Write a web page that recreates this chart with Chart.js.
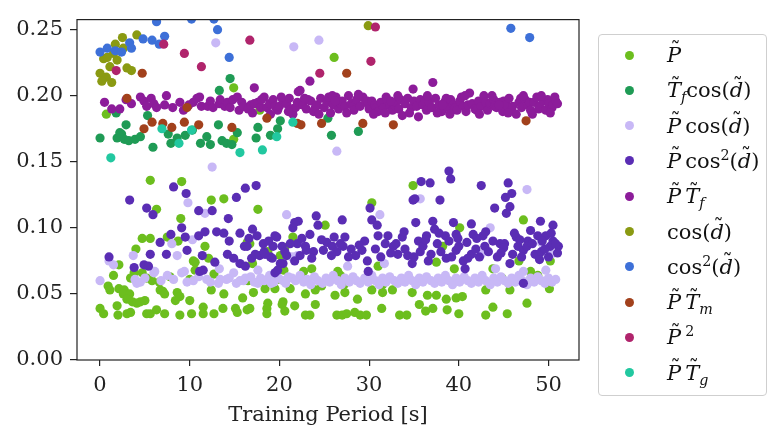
<!DOCTYPE html>
<html><head><meta charset="utf-8">
<script src="https://cdn.jsdelivr.net/npm/chart.js@4.4.0/dist/chart.umd.min.js"></script>
<style>
html,body{margin:0;padding:0;background:#fff;}
#wrap{position:relative;width:770px;height:431px;overflow:hidden;background:#fff;}
#c{position:absolute;left:0;top:0;}
#legend{position:absolute;left:598px;top:34px;width:169px;height:362px;border:1px solid #cfcfcf;border-radius:4px;box-sizing:border-box;background:#fff;}
.row{position:absolute;left:0;width:168px;height:30px;}
.mk{position:absolute;left:26px;top:10.5px;width:9px;height:9px;border-radius:50%;}
.lab{position:absolute;left:68px;top:0;white-space:nowrap;font-family:"DejaVu Serif";font-size:21px;color:#111;line-height:30px;}
.t{position:relative;display:inline-block;font-style:italic;}
.t .tl{position:absolute;left:0.08em;right:-0.06em;text-align:center;top:-0.28em;font-style:normal;font-size:0.95em;}
.lab i{font-style:italic;}
sub,sup{font-size:0.68em;line-height:0;}
</style></head>
<body><div id="wrap"><canvas id="c" width="770" height="431"></canvas><div id="legend"></div></div>
<script>
const xTicks = [0, 10, 20, 30, 40, 50];
const yTicks = [0, 0.05, 0.10, 0.15, 0.20, 0.25];
const tl = (ch) => `<span class="t">${ch}<span class="tl">˜</span></span>`;
const seriesLabels = [
  `${tl('P')}`,
  `${tl('T')}<sub><i>f</i></sub>cos(${tl('d')})`,
  `${tl('P')}&thinsp;cos(${tl('d')})`,
  `${tl('P')}&thinsp;cos<sup>2</sup>(${tl('d')})`,
  `${tl('P')}&thinsp;${tl('T')}<sub><i>f</i></sub>`,
  `cos(${tl('d')})`,
  `cos<sup>2</sup>(${tl('d')})`,
  `${tl('P')}&thinsp;${tl('T')}<sub><i>m</i></sub>`,
  `${tl('P')}&thinsp;<sup>2</sup>`,
  `${tl('P')}&thinsp;${tl('T')}<sub><i>g</i></sub>`
];
const seriesColors = ['#6cbe1e','#1f9b55','#c8b8f6','#5a2db4','#8c1c9a','#8a9a12','#3d70d8','#a2411c','#b0246c','#22c8a0'];

const P_data = [
[0.7,0.186],[5.6,0.136],[9.1,0.135],[12.4,0.121],[13.8,0.122],[14.9,0.206],[14.9,0.167],[17.8,0.189],[26.1,0.229],[34.9,0.132],[30.3,0.119],[6.3,0.114],[17.6,0.114],[9.0,0.107],[25.1,0.102],[40.1,0.100],[47.2,0.106],
[4.7,0.092],[5.6,0.092],[4.0,0.084],[7.5,0.093],[8.7,0.090],[11.7,0.086],[10.4,0.075],[12.1,0.077],[16.4,0.089],[16.7,0.088],[20.1,0.079],[20.6,0.085],[21.5,0.093],[18.7,0.082],[17.0,0.073],[38.2,0.086],[37.5,0.074],[39.5,0.069],[43.8,0.069],[44.8,0.062],[46.7,0.075],[48.0,0.067],[48.8,0.064],[50.2,0.075],[31.0,0.071],
[2.1,0.072],[1.5,0.064],[3.8,0.066],[4.7,0.066],[5.2,0.062],[5.8,0.060],[6.6,0.059],[3.4,0.062],[7.8,0.063],[10.6,0.068],[10.6,0.074],[12.7,0.065],[10.0,0.061],[16.5,0.060],[19.8,0.061],[20.5,0.068],[22.7,0.067],[23.6,0.069],[26.5,0.067],[26.8,0.064],[27.2,0.057],
[0.9,0.056],[1.1,0.053],[2.1,0.054],[2.7,0.053],[2.6,0.050],[3.1,0.047],[3.3,0.050],[3.0,0.046],[3.6,0.044],[4.1,0.043],[4.5,0.044],[5.0,0.045],[6.7,0.053],[7.0,0.052],[7.2,0.050],[8.6,0.051],[8.4,0.045],[8.9,0.048],[10.0,0.045],[12.4,0.053],[13.8,0.050],[15.9,0.047],[17.1,0.051],[18.4,0.054],[18.7,0.043],[19.5,0.054],[20.4,0.044],[21.2,0.054],[22.9,0.050],[24.0,0.053],[24.7,0.056],[26.2,0.049],[27.3,0.051],[28.7,0.046],[30.3,0.053],[31.5,0.057],[31.5,0.051],[32.6,0.053],[34.8,0.051],[36.5,0.049],[37.5,0.049],[38.6,0.046],[39.7,0.047],[40.4,0.048],[43.0,0.053],[45.7,0.053],[50.1,0.054],[47.6,0.043],
[0.0,0.039],[0.4,0.035],[1.9,0.041],[2.0,0.034],[3.0,0.035],[3.4,0.036],[5.2,0.035],[5.6,0.035],[6.3,0.038],[7.2,0.035],[8.9,0.034],[10.2,0.035],[11.5,0.040],[11.5,0.035],[12.7,0.035],[13.7,0.039],[15.1,0.039],[15.3,0.036],[16.4,0.038],[16.7,0.039],[18.6,0.039],[18.6,0.035],[20.3,0.042],[20.6,0.037],[21.7,0.041],[22.9,0.034],[23.4,0.034],[24.0,0.042],[26.4,0.034],[27.0,0.034],[27.5,0.035],[28.4,0.036],[29.0,0.034],[29.7,0.034],[31.4,0.039],[33.4,0.034],[34.2,0.034],[35.6,0.042],[36.3,0.037],[37.1,0.039],[38.7,0.038],[40.0,0.035],[43.0,0.034],[43.8,0.040],[45.4,0.035]
];
const TfCos_data = [
[0.0,0.168],[1.8,0.187],[2.9,0.178],[2.4,0.171],[1.9,0.168],[2.7,0.167],[3.9,0.167],[4.5,0.169],[5.3,0.185],[5.9,0.161],[7.6,0.171],[7.9,0.164],[8.6,0.168],[9.5,0.170],[10.3,0.174],[11.2,0.164],[11.9,0.169],[12.3,0.163],[13.2,0.178],[13.6,0.166],[14.1,0.164],[14.7,0.163],[15.3,0.172],[14.5,0.213],[13.3,0.204],[17.4,0.168],[17.6,0.176],[19.0,0.170],[20.1,0.181],[19.8,0.175],[25.4,0.183],[25.8,0.170],[28.8,0.173],[2.2,0.172],[3.2,0.166]
];
const PCos_data = [
[12.9,0.240],[21.6,0.237],[24.4,0.242],[26.4,0.158],[12.5,0.146],[47.6,0.129],[35.7,0.122],[43.5,0.100],[20.8,0.110],[31.2,0.110],[9.8,0.119],[11.7,0.111],
[0.0,0.060],[1.0,0.075],[1.5,0.072],[3.7,0.079],[4.1,0.058],[6.1,0.067],[8.0,0.088],[8.6,0.079],[9.1,0.066],[9.4,0.067],[10.3,0.091],[6.0,0.066],[3.9,0.061],[4.5,0.059],[10.4,0.060],[11.9,0.061],[12.3,0.059],[13.2,0.058],[13.4,0.061],[14.1,0.061],[14.4,0.062],[14.9,0.066],[15.6,0.060],[16.2,0.062],[13.3,0.069],[17.6,0.058],[18.6,0.061],[19.1,0.058],[20.4,0.060],[21.4,0.062],[22.0,0.079],[17.6,0.068],[27.6,0.071],[31.7,0.073],[21.4,0.078],[42.5,0.080],[49.2,0.089],[50.3,0.080],[47.2,0.067],[44.1,0.069],[49.7,0.068],
[5.0,0.062],[6.8,0.060],[7.5,0.064],[8.2,0.061],[9.7,0.059],[11.0,0.063],[15.2,0.058],[16.0,0.060],
[16.8,0.063],[17.2,0.059],[17.9,0.062],[18.3,0.060],[18.9,0.064],[19.4,0.059],[19.9,0.062],[20.7,0.058],[21.0,0.063],[21.8,0.060],[22.3,0.064],[22.7,0.059],[23.1,0.061],[23.5,0.057],[23.9,0.063],[24.3,0.060],[24.8,0.058],[25.2,0.062],[25.6,0.059],[26.0,0.064],[26.5,0.060],[26.9,0.057],[27.3,0.062],[27.8,0.059],[28.2,0.063],[28.6,0.060],[29.0,0.058],[29.5,0.062],[29.9,0.059],[30.3,0.064],[30.7,0.060],[31.1,0.057],[31.5,0.062],[31.9,0.059],[32.3,0.063],[32.8,0.060],[33.2,0.058],[33.6,0.062],[34.0,0.059],[34.4,0.064],[34.8,0.060],[35.2,0.057],[35.6,0.062],[36.0,0.059],[36.4,0.063],[36.9,0.060],[37.3,0.058],[37.7,0.062],[38.1,0.059],[38.5,0.064],[38.9,0.060],[39.3,0.057],[39.7,0.062],[40.1,0.059],[40.6,0.063],[41.0,0.060],[41.4,0.058],[41.8,0.062],[42.2,0.059],[42.6,0.064],[43.0,0.060],[43.5,0.057],[43.9,0.062],[44.3,0.059],[44.7,0.063],[45.1,0.060],[45.5,0.058],[45.9,0.062],[46.3,0.059],[46.7,0.064],[47.1,0.060],[47.6,0.057],[48.0,0.062],[48.4,0.059],[48.8,0.063],[49.2,0.060],[49.6,0.058],[50.0,0.062],[50.4,0.059],[50.8,0.061]
];
const PCos2_data = [
[3.3,0.121],[8.2,0.131],[9.6,0.126],[5.2,0.115],[5.9,0.110],[11.0,0.113],[12.5,0.113],[15.2,0.123],[16.2,0.130],[14.3,0.107],[9.1,0.100],[7.9,0.095],[6.7,0.089],[9.5,0.093],[11.0,0.094],[11.7,0.097],[13.0,0.097],[13.8,0.096],[14.4,0.090],[15.6,0.096],[9.7,0.083],[7.4,0.080],[5.6,0.080],[1.0,0.078],[3.8,0.070],[4.9,0.072],[5.4,0.071],[11.4,0.079],[12.8,0.074],[11.5,0.068],[14.2,0.080],[14.9,0.077],[15.6,0.073],[16.1,0.086],[16.2,0.071],
[17.4,0.132],[17.5,0.094],[11.1,0.067],[16.9,0.077],[17.8,0.079],[18.3,0.082],[19.0,0.078],[19.3,0.086],[19.7,0.093],[20.3,0.086],[19.5,0.066],[20.1,0.073],[20.8,0.079],[21.5,0.100],[22.0,0.088],[21.7,0.075],[22.1,0.105],
[24.1,0.109],[27.0,0.106],[30.1,0.115],[30.3,0.106],[30.9,0.102],[34.9,0.121],[21.7,0.104],[17.0,0.099],[19.5,0.094],[18.2,0.088],[16.4,0.086],[17.3,0.080],[18.4,0.080],[19.2,0.077],[20.4,0.073],[22.3,0.079],[22.9,0.086],[23.4,0.095],[23.8,0.082],[24.3,0.102],[25.3,0.089],[25.9,0.086],[26.4,0.082],[27.1,0.086],[27.3,0.093],[29.2,0.083],[29.5,0.090],[29.8,0.075],[29.9,0.067],[31.8,0.088],[32.1,0.094],[32.7,0.086],[33.2,0.080],[33.7,0.093],[34.3,0.079],[34.8,0.073],[19.8,0.068],
[38.9,0.143],[39.1,0.137],[35.8,0.135],[36.8,0.134],[42.5,0.132],[45.5,0.134],[45.9,0.126],[45.2,0.123],[45.7,0.116],[45.3,0.111],[44.0,0.115],[37.9,0.121],[35.1,0.122],[35.2,0.104],[37.1,0.105],[37.3,0.099],[39.4,0.104],[41.4,0.103],[41.6,0.095],[42.7,0.094],[49.1,0.105],[50.5,0.102],[36.4,0.094],[38.5,0.094],[39.7,0.095],[46.4,0.093],[47.7,0.090],[48.8,0.094],[49.7,0.094],[50.5,0.090],[51.1,0.086],[35.7,0.082],[36.6,0.075],[38.6,0.077],[39.7,0.083],[40.5,0.075],[41.4,0.080],[40.7,0.069],[42.9,0.086],[44.6,0.088],[45.1,0.088],[45.7,0.073],[46.6,0.086],[47.2,0.083],[48.5,0.080],[49.2,0.082],[50.2,0.086],[47.2,0.058],
[23.0,0.083],[24.7,0.091],[25.8,0.079],[26.8,0.088],[28.0,0.084],[28.5,0.079],[30.7,0.084],[31.3,0.078],[33.0,0.088],[34.0,0.084],[35.5,0.090],[36.0,0.086],[36.9,0.080],[37.6,0.088],[38.0,0.082],[38.9,0.090],[39.2,0.078],[40.0,0.086],[40.9,0.089],[41.9,0.084],[42.3,0.078],[43.3,0.082],[43.8,0.090],[44.3,0.078],[45.0,0.085],[46.0,0.080],[46.8,0.091],[47.6,0.086],[48.2,0.088],[49.0,0.076],[49.6,0.084],[50.8,0.088],[50.0,0.078],
[16.6,0.092],[18.8,0.090],[20.6,0.082],[21.2,0.088],[22.5,0.092],[23.6,0.077],[24.9,0.083],[26.1,0.093],[27.7,0.078],[28.9,0.087],[31.0,0.094],[32.4,0.081],[33.9,0.097],[35.0,0.078],[36.3,0.091],[37.8,0.096],[39.9,0.092],[41.0,0.077],[42.0,0.092],[43.0,0.097],[44.7,0.081],[46.2,0.096],[47.0,0.078],[48.0,0.098],[49.3,0.090],[50.3,0.096],[51.0,0.081]
];
const PTf_data = [
[0.5,0.195],[1.3,0.190],[2.2,0.190],[2.9,0.197],[3.5,0.194],[4.5,0.199],[4.9,0.196],[5.2,0.192],[5.7,0.198],[6.0,0.194],[6.3,0.191],[7.4,0.200],[7.2,0.193],[8.1,0.191],[8.9,0.195],[9.3,0.189],[9.9,0.193],[10.4,0.195],[10.8,0.198],[11.1,0.199],[11.3,0.192],[12.0,0.192],[12.3,0.196],[12.6,0.191],[13.3,0.194],[13.4,0.197],[13.9,0.192],[14.2,0.195],[14.5,0.191],[14.8,0.197],[15.3,0.199],[15.5,0.189],[15.8,0.195],[16.0,0.192],[16.5,0.190],[16.8,0.193],[17.2,0.194],[17.2,0.206],[17.6,0.195],[17.9,0.191],[18.3,0.199],[18.6,0.191],[18.9,0.194],[19.3,0.197],[19.5,0.192],[19.8,0.189],[20.0,0.192],[20.4,0.196],[20.8,0.194],[21.1,0.198],[21.4,0.190],[21.5,0.186],[21.8,0.191],[22.0,0.195],[22.1,0.203],[22.3,0.204],[23.4,0.211],[22.6,0.193],[23.0,0.190],[23.2,0.197],[23.5,0.196],[23.8,0.188],[24.0,0.191],[24.2,0.193],[24.6,0.198],[25.0,0.191],[25.3,0.195],[25.5,0.199],[25.7,0.187],[26.0,0.193],[26.3,0.199],[26.6,0.190],[26.8,0.194],[27.0,0.196],[27.3,0.192],[27.7,0.200],[28.0,0.194],[28.2,0.192],[28.3,0.189],[28.6,0.197],[29.0,0.192],[29.3,0.199],[29.6,0.195],[29.8,0.196],[30.0,0.190],[30.3,0.196],[30.6,0.193],[30.8,0.191],[31.0,0.188],[31.3,0.195],[31.6,0.191],[31.9,0.199],[32.0,0.197],[32.3,0.193],[32.6,0.189],[32.9,0.192],[33.0,0.195],[33.3,0.190],[33.5,0.197],[33.7,0.185],[34.0,0.194],[34.3,0.198],[34.7,0.191],[34.9,0.205],[35.0,0.196],[35.3,0.192],[35.5,0.184],[35.7,0.197],[36.0,0.193],[36.2,0.196],[36.4,0.189],[36.7,0.195],[37.1,0.210],[37.0,0.191],[37.4,0.198],[37.8,0.193],[38.1,0.188],[38.4,0.195],[38.6,0.198],[38.8,0.191],[39.1,0.197],[39.4,0.193],[39.6,0.191],[39.8,0.189],[40.1,0.196],[40.3,0.199],[40.5,0.192],[40.8,0.188],[41.0,0.193],[41.2,0.202],[41.5,0.194],[41.8,0.190],[42.0,0.189],[42.2,0.196],[42.5,0.192],[42.8,0.200],[43.0,0.195],[43.2,0.189],[43.5,0.194],[43.9,0.197],[44.0,0.192],[44.2,0.191],[44.6,0.195],[44.9,0.188],[45.0,0.196],[45.3,0.193],[45.6,0.198],[45.9,0.189],[46.0,0.192],[46.4,0.186],[46.7,0.195],[46.9,0.198],[47.0,0.191],[47.4,0.197],[47.7,0.193],[47.9,0.195],[48.0,0.189],[48.4,0.195],[48.7,0.199],[48.9,0.190],[49.0,0.192],[49.4,0.196],[49.7,0.189],[49.9,0.197],[50.0,0.194],[50.4,0.191],[50.5,0.193],[50.7,0.199],[50.8,0.196],
[17.0,0.187],[18.0,0.197],[19.0,0.186],[20.2,0.199],[21.0,0.188],[22.8,0.198],[24.4,0.186],[25.9,0.200],[27.5,0.187],[28.8,0.201],[30.5,0.186],[31.8,0.187],[33.2,0.200],[34.5,0.187],[36.5,0.200],[37.6,0.187],[39.0,0.186],[40.7,0.200],[42.3,0.186],[43.7,0.200],[45.5,0.187],[47.2,0.200],[48.2,0.186],[49.2,0.200],[50.2,0.187],[51.0,0.194],[26.2,0.196],[32.4,0.196],[38.2,0.193],[44.5,0.193]
];
const Cos_data = [
[0.0,0.217],[0.4,0.228],[0.7,0.214],[1.1,0.222],[1.3,0.210],[1.7,0.239],[1.9,0.227],[2.6,0.236],[3.0,0.221],[3.5,0.219],[2.5,0.244],[4.1,0.246],[1.5,0.232],[0.2,0.211],[0.8,0.229],[29.9,0.253]
];
const Cos2_data = [
[0.0,0.233],[0.8,0.236],[1.7,0.234],[2.4,0.233],[3.3,0.240],[3.5,0.236],[4.8,0.243],[5.8,0.242],[6.6,0.239],[7.2,0.245],[6.3,0.256],[10.2,0.258],[12.7,0.258],[13.1,0.250],[14.4,0.229],[45.8,0.251],[47.9,0.244]
];
const PTm_data = [
[3.0,0.198],[4.7,0.217],[4.9,0.175],[5.8,0.180],[7.0,0.179],[8.0,0.176],[9.4,0.180],[9.7,0.191],[11.0,0.178],[14.7,0.176],[18.6,0.183],[22.0,0.179],[22.4,0.178],[24.7,0.179],[27.5,0.217],[29.3,0.179],[32.7,0.178],[47.5,0.181]
];
const P2_data = [
[1.8,0.219],[9.4,0.232],[11.3,0.222],[16.7,0.242],[30.7,0.252],[30.2,0.226],[24.5,0.217],[7.1,0.239]
];
const PTg_data = [
[1.2,0.153],[6.9,0.175],[8.8,0.164],[10.2,0.174],[15.6,0.157],[18.1,0.159],[21.5,0.180],[19.7,0.169]
];

const seriesData = [P_data, TfCos_data, PCos_data, PCos2_data, PTf_data, Cos_data, Cos2_data, PTm_data, P2_data, PTg_data];

const frame = {
  id: 'frame',
  afterDatasetsDraw(c) {
    const {ctx, chartArea: a} = c;
    ctx.save();
    ctx.strokeStyle = '#222';
    ctx.lineWidth = 1.2;
    ctx.strokeRect(a.left, a.top, a.right - a.left, a.bottom - a.top);
    ctx.restore();
  }
};

const tickFont = {family: 'DejaVu Serif', size: 21};
const chart = new Chart(document.getElementById('c'), {
  type: 'scatter',
  data: {
    datasets: seriesData.map((d, i) => ({
      label: 'series' + i,
      data: d.map(([x, y]) => ({x, y})),
      backgroundColor: seriesColors[i],
      borderWidth: 0,
      pointRadius: 4.6,
      pointHoverRadius: 4.6,
      order: seriesData.length - i,
      clip: 0
    }))
  },
  options: {
    responsive: false,
    animation: false,
    events: [],
    layout: {padding: {left: 0, right: 191, top: 7, bottom: 0}},
    plugins: {legend: {display: false}, tooltip: {enabled: false}},
    scales: {
      x: {
        type: 'linear', min: -2.57, max: 53.4,
        afterBuildTicks: s => { s.ticks = xTicks.map(v => ({value: v})); },
        afterFit: s => { s.height = 71; },
        grid: {drawOnChartArea: false, drawTicks: true, tickLength: 6, color: '#222', lineWidth: 1.2},
        border: {display: false},
        ticks: {padding: 7, font: tickFont, color: '#222', maxRotation: 0, callback: v => String(v)},
        title: {display: true, text: 'Training Period [s]', font: tickFont, color: '#222', padding: {top: 0, bottom: 3}}
      },
      y: {
        type: 'linear', min: 0, max: 0.2576,
        afterBuildTicks: s => { s.ticks = yTicks.map(v => ({value: v})); },
        afterFit: s => { s.width = 77; },
        grid: {drawOnChartArea: false, drawTicks: true, tickLength: 7, color: '#222', lineWidth: 1.2},
        border: {display: false},
        ticks: {padding: 7, font: tickFont, color: '#222', callback: v => Number(v).toFixed(2)}
      }
    }
  },
  plugins: [frame]
});

const leg = document.getElementById('legend');
seriesLabels.forEach((lab, i) => {
  const row = document.createElement('div');
  row.className = 'row';
  row.style.top = (55 + 35.3 * i - 34 - 1 - 15) + 'px';
  row.innerHTML = `<span class="mk" style="background:${chart.data.datasets[i].backgroundColor}"></span><span class="lab">${lab}</span>`;
  leg.appendChild(row);
});
</script>
</body></html>
